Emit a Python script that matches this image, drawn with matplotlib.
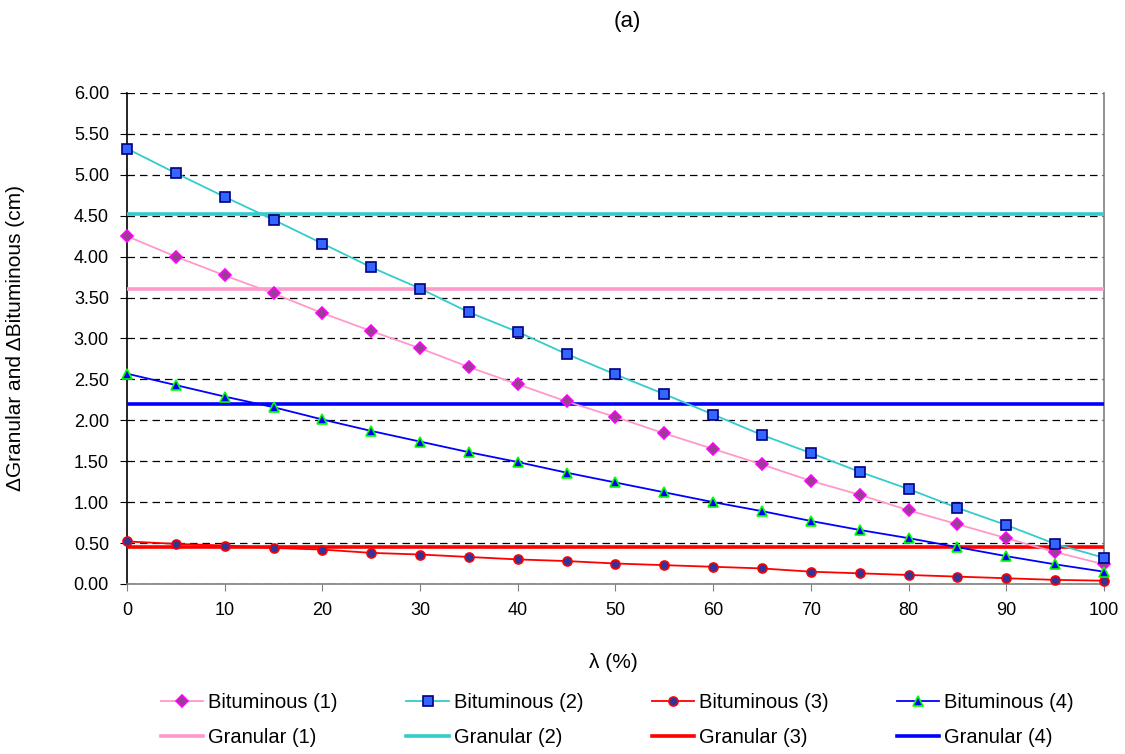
import matplotlib
matplotlib.use("Agg")
import matplotlib.pyplot as plt
import numpy as np

plt.rcParams['font.family'] = ['Liberation Sans', 'DejaVu Sans']

lam = [0, 5, 10, 15, 20, 25, 30, 35, 40, 45, 50, 55, 60, 65, 70, 75, 80, 85, 90, 95, 100]

bit1 = [4.25, 4.00, 3.77, 3.55, 3.31, 3.09, 2.88, 2.65, 2.44, 2.23, 2.04,
        1.84, 1.65, 1.46, 1.26, 1.09, 0.90, 0.73, 0.56, 0.39, 0.24]
bit2 = [5.32, 5.02, 4.73, 4.45, 4.16, 3.87, 3.61, 3.32, 3.08, 2.81, 2.56,
        2.32, 2.07, 1.82, 1.60, 1.37, 1.16, 0.93, 0.72, 0.49, 0.32]
bit3 = [0.52, 0.49, 0.47, 0.44, 0.42, 0.38, 0.36, 0.33, 0.30, 0.28, 0.25,
        0.23, 0.21, 0.19, 0.15, 0.13, 0.11, 0.09, 0.07, 0.05, 0.04]
bit4 = [2.57, 2.43, 2.29, 2.16, 2.01, 1.87, 1.74, 1.61, 1.49, 1.36, 1.24,
        1.12, 1.00, 0.89, 0.77, 0.66, 0.56, 0.45, 0.34, 0.24, 0.15]

granular = [3.60, 4.52, 0.45, 2.20]

bit_labels = ["Bituminous (1)", "Bituminous (2)", "Bituminous (3)", "Bituminous (4)"]
gran_labels = ["Granular (1)", "Granular (2)", "Granular (3)", "Granular (4)"]

line_colors = ["#FF99CC", "#33CCCC", "#FF0000", "#0000FF"]
markers = ["D", "s", "o", "^"]
marker_face = ["#993F8F", "#3366FF", "#333399", "#0000FF"]
marker_edge = ["#FF00FF", "#000080", "#FF0000", "#00FF00"]
marker_size = [6.0, 6.5, 6.5, 7.0]

fig = plt.figure(figsize=(11.25, 7.54), dpi=100)
ax = fig.add_axes([0.1129, 0.2255, 0.8684, 0.6512])

handles = []
for i, series in enumerate([bit1, bit2, bit3, bit4]):
    hb, = ax.plot(lam, series, color=line_colors[i], lw=1.3,
                  marker=markers[i], ms=marker_size[i],
                  mfc=marker_face[i], mec=marker_edge[i], mew=1.2,
                  label=bit_labels[i], zorder=4, clip_on=False)
    hg = ax.axhline(granular[i], color=line_colors[i], lw=2.6,
                    label=gran_labels[i], zorder=3)
    handles.extend([hb, hg])

ax.set_xlim(0, 100)
ax.set_ylim(0, 6)
ax.set_xticks(np.arange(0, 101, 10))
ax.set_yticks(np.arange(0, 6.01, 0.5))
ax.set_yticklabels([f"{v:.2f}" for v in np.arange(0, 6.01, 0.5)])
ax.tick_params(axis='both', labelsize=13, direction='out', length=5,
               color='#808080')
ax.tick_params(axis='y', colors='black', color='black', pad=8)
ax.tick_params(axis='x', pad=8)

ax.yaxis.grid(True, linestyle=(0, (6, 4)), color='black', lw=0.9)
ax.set_axisbelow(True)

ax.spines['left'].set_color('black')
for s in ['right', 'bottom', 'top']:
    ax.spines[s].set_color('#808080')
ax.spines['top'].set_visible(False)
for s in ax.spines.values():
    s.set_linewidth(1.2)

ax.set_xlabel("λ (%)", fontsize=15)
ax.xaxis.set_label_coords(0.498, -0.14)
ax.set_ylabel("ΔGranular and ΔBituminous (cm)", fontsize=15)
ax.yaxis.set_label_coords(-0.104, 0.5)
fig.text(0.558, 0.971, "(a)", fontsize=16, ha='center', va='center')

fig.legend(handles=handles, labels=[h.get_label() for h in handles],
           loc='center', bbox_to_anchor=(0.549, 0.045), ncol=4,
           frameon=False, fontsize=14.5, handlelength=2.1,
           columnspacing=3.4, handletextpad=0.25, labelspacing=0.8,
           borderpad=0.2)

fig.savefig("out.png", dpi=100)
